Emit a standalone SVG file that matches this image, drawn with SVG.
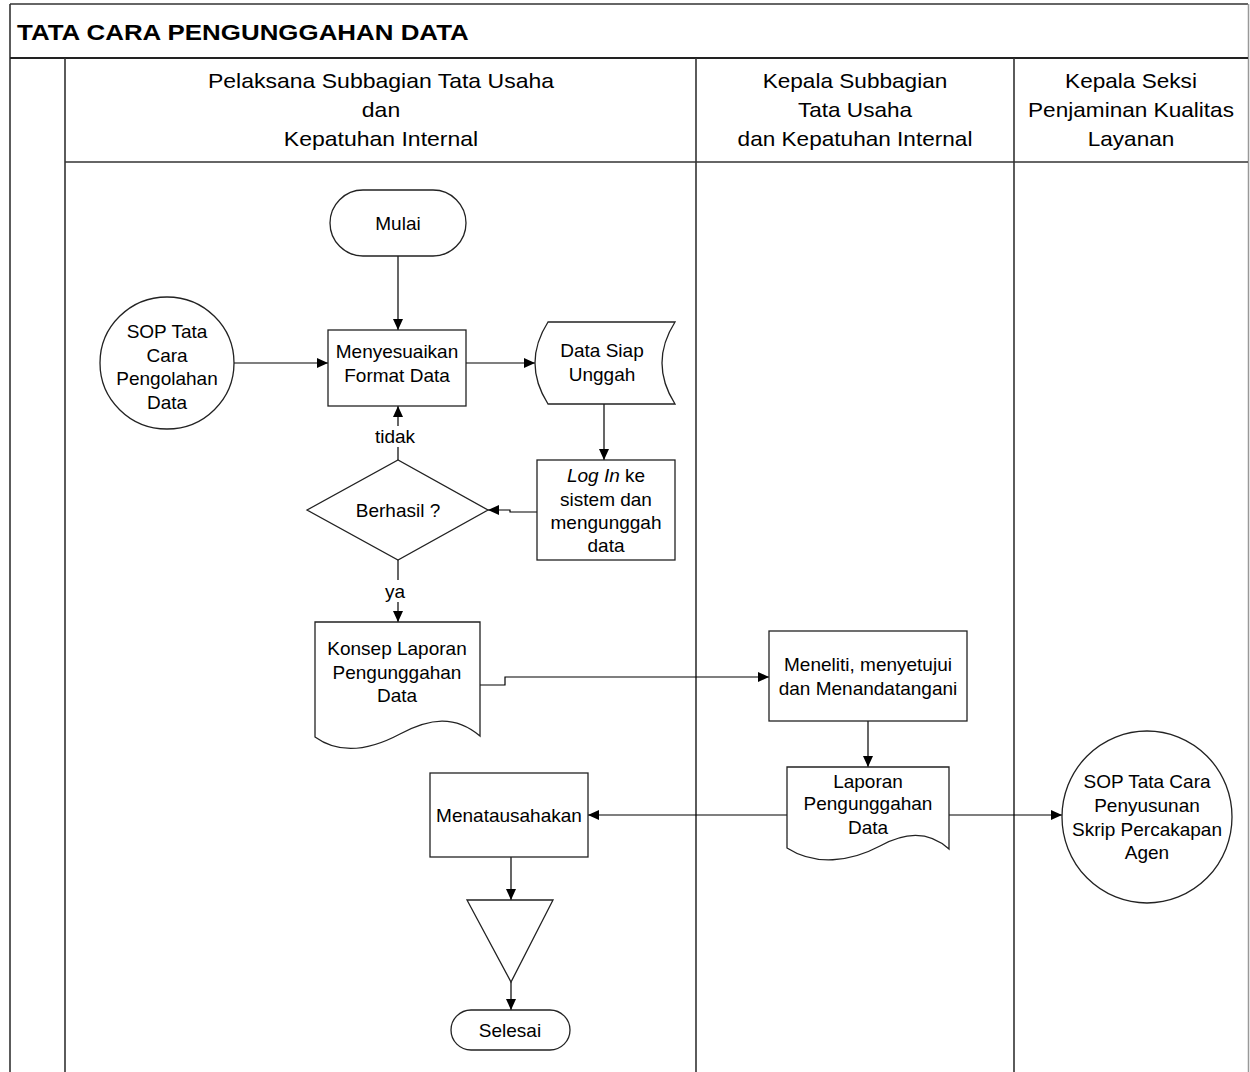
<svg xmlns="http://www.w3.org/2000/svg" width="1250" height="1072" viewBox="0 0 1250 1072">
<style>
text{font-family:"Liberation Sans",Arial,sans-serif;fill:#000}
.t{font-size:19px;text-anchor:middle}
.h{font-size:20px;text-anchor:middle}
.ttl{font-size:21.5px;font-weight:bold}
.frame{stroke:#333;stroke-width:1.6;fill:none}
.shape{fill:#fff;stroke:#222;stroke-width:1.3}
.c{fill:none;stroke:#000;stroke-width:1.2}
.ca{fill:none;stroke:#000;stroke-width:1.2;marker-end:url(#ah)}
</style>
<defs>
<marker id="ah" markerUnits="userSpaceOnUse" markerWidth="12" markerHeight="10" refX="11" refY="5" orient="auto">
<path d="M0,0 L11,5 L0,10 Z" fill="#000"/>
</marker>
</defs>
<rect x="0" y="0" width="1250" height="1072" fill="#fff"/>
<g id="frame">
<line class="frame" x1="10" y1="4" x2="1248" y2="4" stroke="#777"/>
<line class="frame" x1="10" y1="4" x2="10" y2="1072"/>
<line x1="1248.5" y1="4" x2="1248.5" y2="1072" stroke="#999" stroke-width="1.5"/>
<line x1="10" y1="58" x2="1248" y2="58" stroke="#222" stroke-width="2.2"/>
<line class="frame" x1="65" y1="58" x2="65" y2="1072"/>
<line class="frame" x1="696" y1="58" x2="696" y2="1072"/>
<line class="frame" x1="1014" y1="58" x2="1014" y2="1072"/>
<line class="frame" x1="65" y1="162" x2="1248" y2="162"/>
<g transform="translate(17,40) scale(1.205,1)"><text class="ttl" x="0" y="0">TATA CARA PENGUNGGAHAN DATA</text></g>
</g>
<g id="lane-headers">
<g transform="translate(381,0) scale(1.15,1)">
<text class="h" x="0" y="88">Pelaksana Subbagian Tata Usaha</text>
<text class="h" x="0" y="117">dan</text>
<text class="h" x="0" y="146">Kepatuhan Internal</text>
</g>
<g transform="translate(855,0) scale(1.13,1)">
<text class="h" x="0" y="88">Kepala Subbagian</text>
<text class="h" x="0" y="117">Tata Usaha</text>
<text class="h" x="0" y="146">dan Kepatuhan Internal</text>
</g>
<g transform="translate(1131,0) scale(1.13,1)">
<text class="h" x="0" y="88">Kepala Seksi</text>
<text class="h" x="0" y="117">Penjaminan Kualitas</text>
<text class="h" x="0" y="146">Layanan</text>
</g>
</g>
<g id="connectors">
<path class="ca" d="M398,256 V330"/>
<path class="ca" d="M234,363 H328"/>
<path class="ca" d="M466,363 H535"/>
<path class="ca" d="M604,404 V460"/>
<path class="ca" d="M537,512 H510 V510 H488"/>
<path class="c" d="M398,460 V447"/>
<path class="ca" d="M398,426 V406"/>
<path class="c" d="M398,560 V580"/>
<path class="ca" d="M398,602 V622"/>
<path class="ca" d="M480,685 H505 V677 H769"/>
<path class="ca" d="M868,721 V767"/>
<path class="ca" d="M787,815 H588"/>
<path class="ca" d="M949,815 H1062"/>
<path class="ca" d="M511,857 V900"/>
<path class="ca" d="M511,982 V1010"/>
<text class="t" x="395" y="443">tidak</text>
<text class="t" x="395" y="598">ya</text>
</g>
<g id="mulai">
<rect class="shape" x="330" y="190" width="136" height="66" rx="33" ry="33"/>
<text class="t" x="398" y="230">Mulai</text>
</g>
<g id="sop-pengolahan">
<ellipse class="shape" cx="167" cy="363" rx="67" ry="66"/>
<text class="t" x="167" y="338">SOP Tata</text>
<text class="t" x="167" y="362">Cara</text>
<text class="t" x="167" y="385">Pengolahan</text>
<text class="t" x="167" y="409">Data</text>
</g>
<g id="menyesuaikan">
<rect class="shape" x="328" y="330" width="138" height="76"/>
<text class="t" x="397" y="358">Menyesuaikan</text>
<text class="t" x="397" y="382">Format Data</text>
</g>
<g id="data-siap">
<path class="shape" d="M548,322 H675 Q649,363 675,404 H548 Q522,363 548,322 Z"/>
<text class="t" x="602" y="357">Data Siap</text>
<text class="t" x="602" y="381">Unggah</text>
</g>
<g id="login">
<rect class="shape" x="537" y="460" width="138" height="100"/>
<text class="t" x="606" y="482"><tspan font-style="italic">Log In</tspan> ke</text>
<text class="t" x="606" y="506">sistem dan</text>
<text class="t" x="606" y="529">mengunggah</text>
<text class="t" x="606" y="552">data</text>
</g>
<g id="berhasil">
<path class="shape" d="M307,510 L398,460 L488,510 L398,560 Z"/>
<text class="t" x="398" y="517">Berhasil ?</text>
</g>
<g id="konsep">
<path class="shape" d="M315,622 H480 V736 C455,715 430,718 400,734 C370,750 340,755 315,737 Z"/>
<text class="t" x="397" y="655">Konsep Laporan</text>
<text class="t" x="397" y="679">Pengunggahan</text>
<text class="t" x="397" y="702">Data</text>
</g>
<g id="meneliti">
<rect class="shape" x="769" y="631" width="198" height="90"/>
<text class="t" x="868" y="671">Meneliti, menyetujui</text>
<text class="t" x="868" y="695">dan Menandatangani</text>
</g>
<g id="laporan">
<path class="shape" d="M787,767 H949 V849 C928,830 905,832 880,846 C850,862 815,866 787,848 Z"/>
<text class="t" x="868" y="788">Laporan</text>
<text class="t" x="868" y="810">Pengunggahan</text>
<text class="t" x="868" y="834">Data</text>
</g>
<g id="sop-penyusunan">
<ellipse class="shape" cx="1147" cy="817" rx="85" ry="86"/>
<text class="t" x="1147" y="788">SOP Tata Cara</text>
<text class="t" x="1147" y="812">Penyusunan</text>
<text class="t" x="1147" y="836">Skrip Percakapan</text>
<text class="t" x="1147" y="859">Agen</text>
</g>
<g id="menatausahakan">
<rect class="shape" x="430" y="773" width="158" height="84"/>
<text class="t" x="509" y="822">Menatausahakan</text>
</g>
<g id="arsip">
<path class="shape" d="M467,900 H553 L511,982 Z"/>
</g>
<g id="selesai">
<rect class="shape" x="451" y="1010" width="119" height="40" rx="20" ry="20"/>
<text class="t" x="510" y="1037">Selesai</text>
</g>
</svg>
